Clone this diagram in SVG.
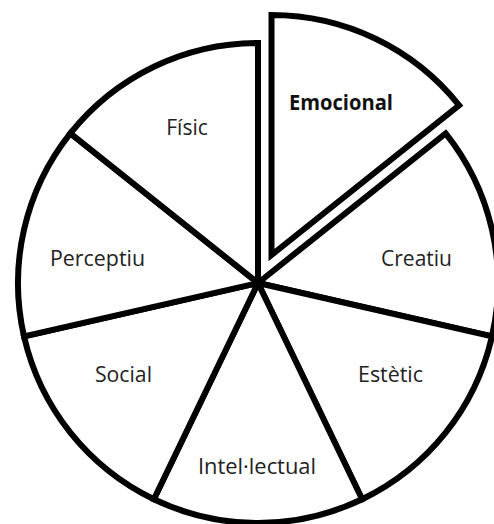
<svg xmlns="http://www.w3.org/2000/svg" width="494" height="524" viewBox="0 0 494 524">
  <style>
    .slice { fill: #ffffff; stroke: #000000; stroke-width: 6; stroke-linejoin: miter; }
    .lbl { font-family: "Open Sans", "Lato", "Liberation Sans", sans-serif; font-size: 21.5px; fill: #222222; text-anchor: middle; }
    .bold { font-weight: bold; fill: #111111; }
  </style>
  <rect width="494" height="524" fill="#ffffff"/>
  <g id="slice-creatiu">
    <path class="slice" d="M258,283 L445.64,133.36 A240,240 0 0 1 491.98,336.40 Z"/>
    <text class="lbl" x="416.5" y="266" textLength="71" lengthAdjust="spacingAndGlyphs">Creatiu</text>
  </g>
  <g id="slice-estetic">
    <path class="slice" d="M258,283 L491.98,336.40 A240,240 0 0 1 362.13,499.23 Z"/>
    <text class="lbl" x="390.5" y="382" textLength="65" lengthAdjust="spacingAndGlyphs">Estètic</text>
  </g>
  <g id="slice-intellectual">
    <path class="slice" d="M258,283 L362.13,499.23 A240,240 0 0 1 153.87,499.23 Z"/>
    <text class="lbl" x="257" y="473.5" textLength="118" lengthAdjust="spacingAndGlyphs">Intel·lectual</text>
  </g>
  <g id="slice-social">
    <path class="slice" d="M258,283 L153.87,499.23 A240,240 0 0 1 24.02,336.40 Z"/>
    <text class="lbl" x="123.5" y="382" textLength="57" lengthAdjust="spacingAndGlyphs">Social</text>
  </g>
  <g id="slice-perceptiu">
    <path class="slice" d="M258,283 L24.02,336.40 A240,240 0 0 1 70.36,133.36 Z"/>
    <text class="lbl" x="97.5" y="266" textLength="95" lengthAdjust="spacingAndGlyphs">Perceptiu</text>
  </g>
  <g id="slice-fisic">
    <path class="slice" d="M258,283 L70.36,133.36 A240,240 0 0 1 258,43 Z"/>
    <text class="lbl" x="187" y="135" textLength="41.5" lengthAdjust="spacingAndGlyphs">Físic</text>
  </g>
  <g id="slice-emocional">
    <path class="slice" d="M271.5,255 L271.5,15 A240,240 0 0 1 459.14,105.36 Z"/>
    <text class="lbl bold" x="341" y="109.5" textLength="104" lengthAdjust="spacingAndGlyphs">Emocional</text>
  </g>
</svg>
